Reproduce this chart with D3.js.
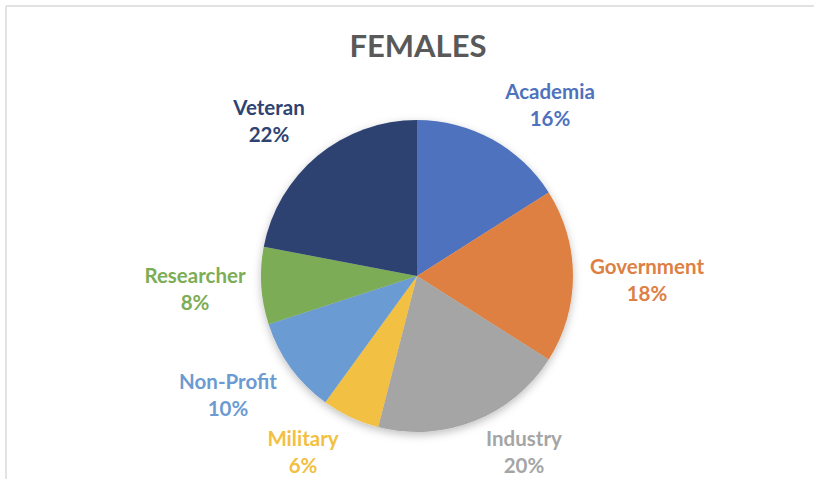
<!DOCTYPE html>
<html>
<head>
<meta charset="utf-8">
<script src="https://cdn.jsdelivr.net/npm/d3@7"></script>
<style>
  body { margin: 0; background: #fff; }
  text { font-family: Lato, "Open Sans", sans-serif; font-weight: bold; }
</style>
</head>
<body>
<div id="chart"></div>
<script>
// chart data
var categories = ["Academia", "Government", "Industry", "Military", "Non-Profit", "Researcher", "Veteran"];
var shares = [16, 18, 20, 6, 10, 8, 22];
var colors = ["#4F72BE", "#DD8043", "#A5A5A5", "#F2C043", "#6B9BD2", "#7CAD57", "#2E4372"];
// label anchor points (centre of the two-line label)
var labelPos = [[550, 105], [647, 280], [524, 452], [303, 452], [228, 395], [195, 289], [269, 121]];

var width = 814, height = 479;
var cx = 417, cy = 276, radius = 156;

var svg = d3.select("#chart").append("svg")
  .attr("width", width).attr("height", height);

var defs = svg.append("defs");
var f = defs.append("filter").attr("id", "shadow")
  .attr("x", "-20%").attr("y", "-20%").attr("width", "140%").attr("height", "140%");
f.append("feDropShadow").attr("dx", 0).attr("dy", 3)
  .attr("stdDeviation", 4).attr("flood-color", "#000").attr("flood-opacity", 0.25);

// frame of the chart area
svg.append("line").attr("x1", 6).attr("x2", width).attr("y1", 6).attr("y2", 6)
  .attr("stroke", "#d9d9d9").attr("stroke-width", 1.5);
svg.append("line").attr("x1", 6).attr("x2", 6).attr("y1", 6).attr("y2", height)
  .attr("stroke", "#d9d9d9").attr("stroke-width", 1.5);

svg.append("text")
  .attr("x", 418).attr("y", 57)
  .attr("text-anchor", "middle")
  .attr("fill", "#595959")
  .style("font-size", "31px")
  .text("FEMALES");

var pie = d3.pie().sort(null).value(function (d) { return d; });
var arc = d3.arc().innerRadius(0).outerRadius(radius);
var arcs = pie(shares);

var g = svg.append("g").attr("transform", "translate(" + cx + "," + cy + ")")
  .attr("filter", "url(#shadow)");

g.selectAll("path").data(arcs).enter().append("path")
  .attr("d", arc)
  .attr("fill", function (d, i) { return colors[i]; });

var labels = svg.selectAll("g.lbl").data(arcs).enter().append("g")
  .attr("class", "lbl")
  .attr("transform", function (d, i) { return "translate(" + labelPos[i][0] + "," + labelPos[i][1] + ")"; });

labels.append("text")
  .attr("text-anchor", "middle")
  .attr("y", -6)
  .attr("fill", function (d, i) { return colors[i]; })
  .style("font-size", "20.5px")
  .text(function (d, i) { return categories[i]; });

labels.append("text")
  .attr("text-anchor", "middle")
  .attr("y", 21)
  .attr("fill", function (d, i) { return colors[i]; })
  .style("font-size", "20.5px")
  .text(function (d, i) { return shares[i] + "%"; });
</script>
</body>
</html>
